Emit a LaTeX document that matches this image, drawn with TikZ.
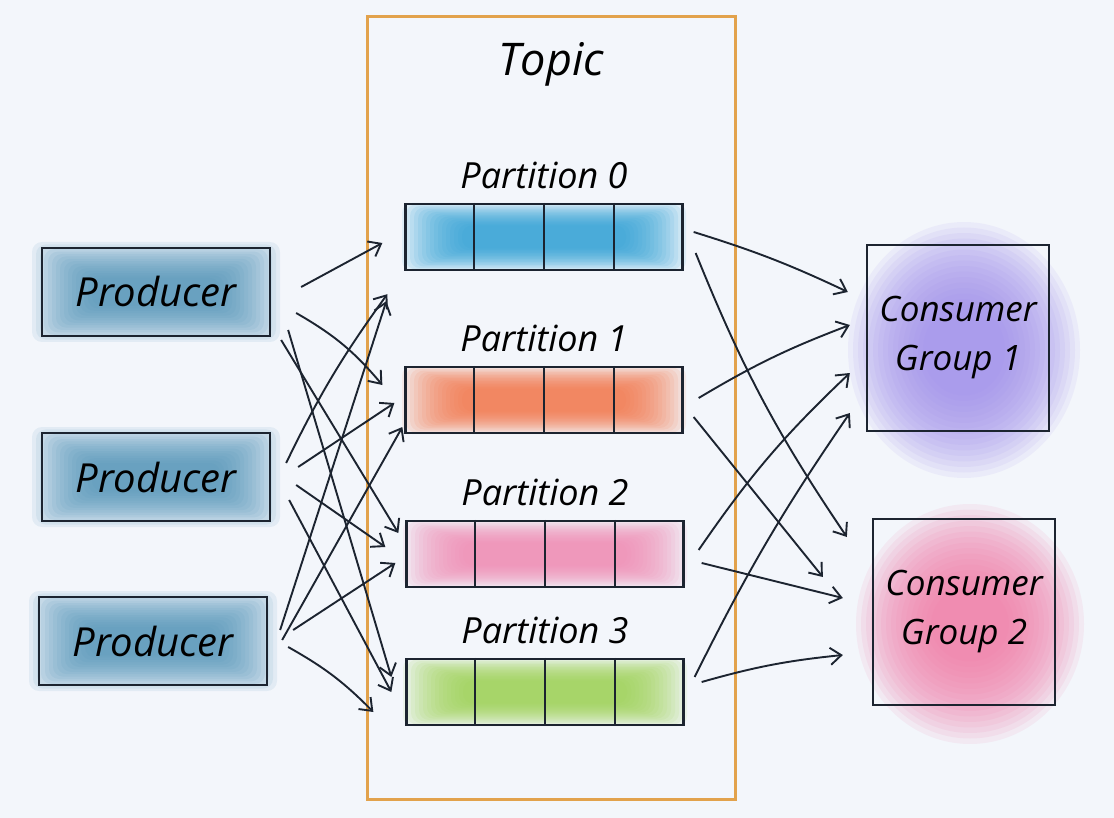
\documentclass[tikz,border=0pt]{standalone}
\usepackage{fontspec}
\setmainfont{Open Sans}
\usetikzlibrary{arrows.meta,calc,positioning}

\definecolor{paper}{HTML}{F3F6FB}
\definecolor{ink}{HTML}{1C2430}
\definecolor{topicorange}{HTML}{E2A24C}
\definecolor{prodblue}{HTML}{4F93B8}
\definecolor{pblue}{HTML}{2A9FD6}
\definecolor{porange}{HTML}{F27445}
\definecolor{ppink}{HTML}{EF88B2}
\definecolor{pgreen}{HTML}{9BD24E}
\definecolor{cgpurple}{HTML}{9F8DEC}
\definecolor{cgpink}{HTML}{F07AA6}

\pgfdeclarelayer{paperlayer}
\pgfdeclarelayer{glowlayer}
\pgfsetlayers{paperlayer,glowlayer,main}

% watercolour wash: colour, node, half width, half height, x step, y step
\newcommand{\wash}[6]{%
  \foreach \k in {0,...,15} {%
    \fill[#1, opacity=0.1, rounded corners=10pt]
      ($(#2.center)+({-#3+\k*#5},{-#4+\k*#6})$) rectangle ($(#2.center)+({#3-\k*#5},{#4-\k*#6})$);
  }%
}
% round wash for the consumer groups
\newcommand{\blob}[6]{%
  \foreach \k in {0,...,15} {%
    \fill[#1, opacity=0.1] ($(#2.center)+(6,12)$) ellipse ({#3-\k*#5} and {#4-\k*#6});
  }%
}

\tikzset{
  box/.style={draw=ink, line width=2.3pt, inner sep=0pt},
  producer/.style={box, minimum width=228pt, minimum height=88pt, font=\itshape\fontsize{40}{44}\selectfont},
  partition/.style={box, minimum width=277pt, minimum height=66pt},
  partlabel/.style={font=\itshape\fontsize{36}{40}\selectfont, inner sep=2pt},
  consumer/.style={box, minimum width=182pt, minimum height=186pt, align=center, font=\itshape\fontsize{35}{49}\selectfont},
  flow/.style={ink, line width=1.9pt, -{Straight Barb[length=11pt,width=17pt]}},
}

\begin{document}
\begin{tikzpicture}[x=1pt,y=-1pt]
  \begin{pgfonlayer}{paperlayer}
    \fill[paper] (0,0) rectangle (1114,818);
  \end{pgfonlayer}
  \useasboundingbox (0,0) rectangle (1114,818);

  % topic frame
  \node[draw=topicorange, line width=3pt, minimum width=368pt, minimum height=783pt] (topic) at (551,408) {};
  \node[font=\itshape\fontsize{45}{48}\selectfont, below=24pt of topic.north] (topictitle) {Topic};

  % producers
  \node[producer] (prod1) at (156,292) {Producer};
  \node[producer] (prod2) at (156,477) {Producer};
  \node[producer] (prod3) at (153,641) {Producer};

  % partitions
  \node[partition] (part0) at (544,237) {};
  \node[partition] (part1) at (544,400) {};
  \node[partition] (part2) at (545,554) {};
  \node[partition] (part3) at (545,692) {};
  \foreach \p/\n in {part0/0,part1/1,part2/2,part3/3} {
    \node[partlabel, above=12pt of \p] (\p label) {Partition \n};
    \foreach \i in {1,2,3}
      \draw[ink, line width=2.3pt] ($(\p.north west)!\i/4!(\p.north east)$) -- ($(\p.south west)!\i/4!(\p.south east)$);
  }

  % consumer groups
  \node[consumer] (cg1) at (958,338) {Consumer\\Group 1};
  \node[consumer] (cg2) at (964,612) {Consumer\\Group 2};

  % washes
  \begin{pgfonlayer}{glowlayer}
    \foreach \p in {prod1,prod2,prod3} {\wash{prodblue}{\p}{124}{50}{4}{2.4}}
    \wash{pblue}{part0}{142}{34}{4}{1.5}
    \wash{porange}{part1}{142}{34}{4}{1.5}
    \wash{ppink}{part2}{142}{34}{4}{1.5}
    \wash{pgreen}{part3}{142}{34}{4}{1.5}
    \blob{cgpurple}{cg1}{116}{128}{5}{5.5}
    \blob{cgpink}{cg2}{114}{120}{5}{5.5}
  \end{pgfonlayer}

  % producers to partitions
  \draw[flow] ($(prod1.east)+(30,-5)$) -- ($(part0.west)+(-22,6)$);
  \draw[flow] ($(prod1.east)+(25,21)$) to[bend left=10] ($(part1.west)+(-22,-15)$);
  \draw[flow] ($(prod1.east)+(10,48)$) -- ($(part2.west)+(-7,-21)$);
  \draw[flow] ($(prod1.east)+(17,38)$) -- ($(part3.west)+(-14,-15)$);
  \draw[flow] ($(prod2.east)+(15,-14)$) to[bend left=5] ($(part0.south west)+(-17,23)$);
  \draw[flow] ($(prod2.east)+(27,-10)$) -- ($(part1.west)+(-10,3)$);
  \draw[flow] ($(prod2.east)+(25,8)$) -- ($(part2.west)+(-20,-7)$);
  \draw[flow] ($(prod2.east)+(18,23)$) -- ($(part3.west)+(-14,0)$);
  \draw[flow] ($(prod3.east)+(12,-11)$) -- ($(part0.south west)+(-18,30)$);
  \draw[flow] ($(prod3.east)+(14,-1)$) -- ($(part1.west)+(-2,27)$);
  \draw[flow] ($(prod3.east)+(25,-11)$) -- ($(part2.west)+(-10,9)$);
  \draw[flow] ($(prod3.east)+(20,6)$) to[bend left=8] ($(part3.west)+(-32,20)$);

  % partitions to consumer groups
  \draw[flow] ($(part0.east)+(10,-5)$) to[bend left=4] ($(cg1.west)+(-18,-46)$);
  \draw[flow] ($(part0.east)+(12,16)$) to[bend right=6] ($(cg2.west)+(-25,-75)$);
  \draw[flow] ($(part1.east)+(15,-2)$) to[bend left=5] ($(cg1.west)+(-16,-13)$);
  \draw[flow] ($(part1.east)+(10,17)$) -- ($(cg2.west)+(-49,-35)$);
  \draw[flow] ($(part2.east)+(14,-4)$) to[bend left=6] ($(cg1.west)+(-16,35)$);
  \draw[flow] ($(part2.east)+(17,9)$) -- ($(cg2.west)+(-29,-14)$);
  \draw[flow] ($(part3.east)+(10,-15)$) to[bend left=4] ($(cg1.west)+(-16,75)$);
  \draw[flow] ($(part3.east)+(17,-10)$) to[bend left=5] ($(cg2.west)+(-29,43)$);
\end{tikzpicture}
\end{document}
